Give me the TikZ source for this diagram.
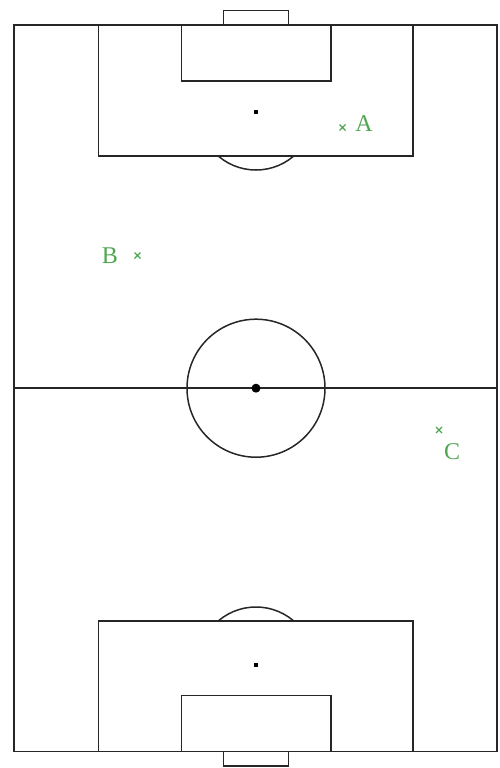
\documentclass[tikz,border=0pt]{standalone}
\usepackage{fontspec}
\setmainfont{Liberation Serif}
\definecolor{lbl}{RGB}{80,165,80}
\begin{document}
\begin{tikzpicture}[x=1pt,y=-1pt,
  pline/.style={draw=black!85,line width=1.5pt},
  lab/.style={text=lbl,font=\fontsize{24}{24}\selectfont,inner sep=0pt},
  xmark/.style={draw=lbl,line width=1.3pt}]
\useasboundingbox (0,0) rectangle (499,768);
% pitch outline and halfway line
\draw[pline] (14,25) rectangle (497,751.5);
\draw[pline] (14,388.2) -- (497,388.2);
% centre circle and spot
\draw[pline] (256,388.2) circle (69);
\fill[black] (256,388.2) circle (4.5);
% top end
\draw[pline] (223.5,25) -- (223.5,10.5) -- (288.5,10.5) -- (288.5,25);
\draw[pline] (98.5,25) -- (98.5,156) -- (413,156) -- (413,25);
\draw[pline] (181.5,25) -- (181.5,81) -- (331,81) -- (331,25);
\fill[black] (254,110) rectangle (258,114);
\begin{scope}
\clip (0,156) rectangle (499,300);
\draw[pline] (256,112) circle (58);
\end{scope}
% bottom end
\draw[pline] (223.5,751.5) -- (223.5,766) -- (288.5,766) -- (288.5,751.5);
\draw[pline] (98.5,751.5) -- (98.5,621) -- (413,621) -- (413,751.5);
\draw[pline] (181.5,751.5) -- (181.5,695.5) -- (331,695.5) -- (331,751.5);
\fill[black] (254,663) rectangle (258,667);
\begin{scope}
\clip (0,470) rectangle (499,621);
\draw[pline] (256,665) circle (58);
\end{scope}
% labels
\node[lab] (A) at (364,124) {A};
\node[lab] (B) at (110,256) {B};
\node[lab] (C) at (452,452) {C};
\draw[xmark] (339.5,124.5) -- +(6,6) (339.5,130.5) -- +(6,-6);
\draw[xmark] (134.5,252.5) -- +(6,6) (134.5,258.5) -- +(6,-6);
\draw[xmark] (436,427) -- +(6,6) (436,433) -- +(6,-6);
\end{tikzpicture}
\end{document}
